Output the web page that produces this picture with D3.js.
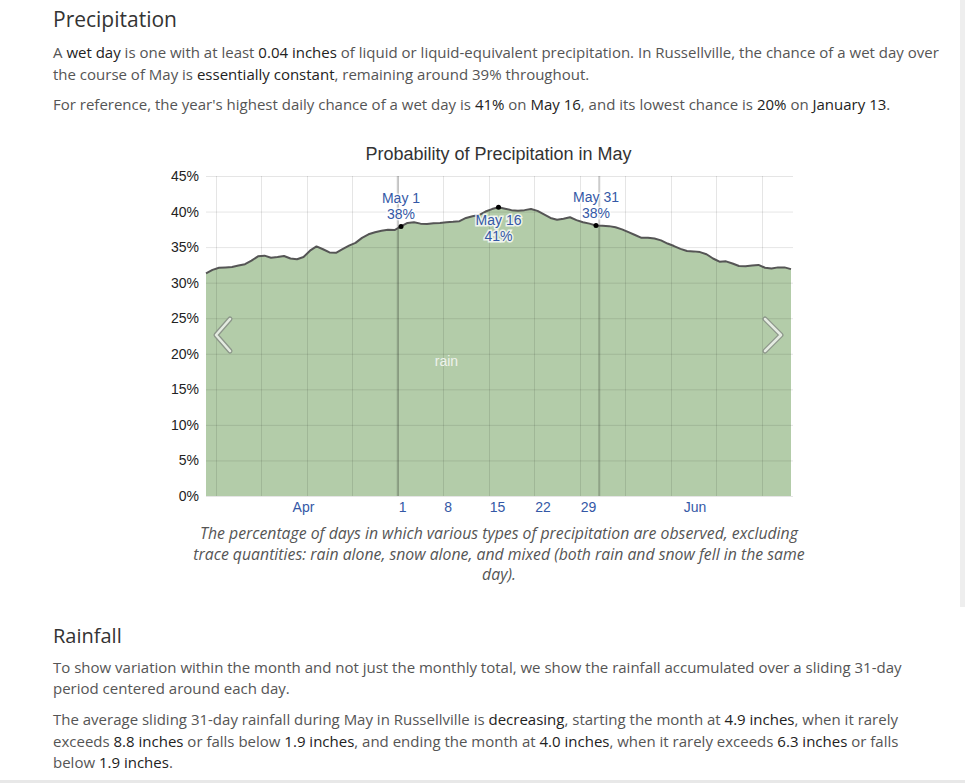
<!DOCTYPE html>
<html>
<head>
<meta charset="utf-8">
<script src="https://cdn.jsdelivr.net/npm/d3@7"></script>
<style>
  body { margin: 0; width: 965px; height: 783px; overflow: hidden; background: #fff;
         font-family: "Open Sans", sans-serif; color: #555; position: relative; }
  .blk { position: absolute; left: 53px; white-space: nowrap; font-size: 15px; line-height: 22px; }
  .hd { position: absolute; left: 53px; font-size: 21px; color: #333; white-space: nowrap; }
  .k { color: #222; }
  .cap { position: absolute; left: 0; width: 998px; text-align: center; font-style: italic;
         font-size: 15.8px; line-height: 20.5px; white-space: nowrap; }
  #chart { position: absolute; left: 0; top: 0; }
  .edge-r { position: absolute; left: 960px; top: 0; width: 5px; height: 607px; background: #eee; }
  .edge-b { position: absolute; left: 0; top: 780px; width: 965px; height: 3px; background: #e8e8e8; }
</style>
</head>
<body>
<div class="hd" style="top:5px;">Precipitation</div>
<div class="blk" style="top:41px;">A <span class="k">wet day</span> is one with at least <span class="k">0.04 inches</span> of liquid or liquid-equivalent precipitation. In Russellville, the chance of a wet day over<br>the course of May is <span class="k">essentially constant</span>, remaining around 39% throughout.</div>
<div class="blk" style="top:93px;">For reference, the year's highest daily chance of a wet day is <span class="k">41%</span> on <span class="k">May 16</span>, and its lowest chance is <span class="k">20%</span> on <span class="k">January 13</span>.</div>

<svg id="chart" width="965" height="520"></svg>

<div class="cap" style="top:523px;">The percentage of days in which various types of precipitation are observed, excluding<br>trace quantities: rain alone, snow alone, and mixed (both rain and snow fell in the same<br>day).</div>

<div class="hd" style="top:622px; font-size:20px;">Rainfall</div>
<div class="blk" style="top:657px; line-height:21px;">To show variation within the month and not just the monthly total, we show the rainfall accumulated over a sliding 31-day<br>period centered around each day.</div>
<div class="blk" style="top:709px; line-height:21.5px;">The average sliding 31-day rainfall during May in Russellville is <span class="k">decreasing</span>, starting the month at <span class="k">4.9 inches</span>, when it rarely<br>exceeds <span class="k">8.8 inches</span> or falls below <span class="k">1.9 inches</span>, and ending the month at <span class="k">4.0 inches</span>, when it rarely exceeds <span class="k">6.3 inches</span> or falls<br>below <span class="k">1.9 inches</span>.</div>
<div class="edge-r"></div>
<div class="edge-b"></div>

<script>
// daily chance of a wet day (%), Apr 1 .. Jun 30
const rainPct = [
  31.3, 31.8, 32.1, 32.15, 32.2, 32.4, 32.6, 33.1, 33.7, 33.8,
  33.5, 33.6, 33.75, 33.4, 33.3, 33.6, 34.5, 35.1, 34.7, 34.25,
  34.2, 34.7, 35.2, 35.6, 36.3, 36.8, 37.1, 37.3, 37.45, 37.4,
  37.9, 38.4, 38.5, 38.3, 38.25, 38.35, 38.4, 38.5, 38.55, 38.65,
  39.1, 39.35, 39.5, 40.0, 40.35, 40.6, 40.4, 40.2, 40.1, 40.2,
  40.35, 40.1, 39.6, 39.1, 38.85, 39.0, 39.2, 38.8, 38.5, 38.3,
  38.05, 38.0, 37.95, 37.8, 37.5, 37.1, 36.7, 36.3, 36.3, 36.2,
  35.95, 35.5, 35.15, 34.75, 34.45, 34.4, 34.3, 34.0, 33.4, 32.95,
  33.0, 32.7, 32.35, 32.3, 32.4, 32.5, 32.1, 32.0, 32.15, 32.15,
  31.9
];
const firstDay = new Date(Date.UTC(2021, 3, 1, 12));
const yTicks = [0, 5, 10, 15, 20, 25, 30, 35, 40, 45];
const dayTickLabels = ['1', '8', '15', '22', '29'];
const dayTickDates = [1, 8, 15, 22, 29].map(d => new Date(Date.UTC(2021, 4, d)));
const monthLabels = ['Apr', 'Jun'];
const monthLabelDates = [new Date(Date.UTC(2021, 3, 16, 12)), new Date(Date.UTC(2021, 5, 15, 18))];
const monthEdges = [new Date(Date.UTC(2021, 4, 1)), new Date(Date.UTC(2021, 5, 1))];
const callouts = [
  { label: 'May 1', text: '38%', dayIndex: 30, above: true },
  { label: 'May 16', text: '41%', dayIndex: 45, above: false },
  { label: 'May 31', text: '38%', dayIndex: 60, above: true }
];
const seriesName = 'rain';
const chartTitle = 'Probability of Precipitation in May';

const data = rainPct.map((v, i) => ({ date: d3.utcDay.offset(firstDay, i), value: v }));

const margin = { top: 176, left: 206 };
const width = 585, height = 320;
const blue = '#3458a6';

const svg = d3.select('#chart');
const chart = svg.append('g').attr('transform', `translate(${margin.left},${margin.top})`);

const x = d3.scaleUtc().domain(d3.extent(data, d => d.date)).range([0, width]);
const y = d3.scaleLinear().domain([0, 45]).range([height, 0]);

// area + outline
chart.append('path')
  .datum(data)
  .attr('fill', '#b3cca9')
  .attr('d', d3.area().x(d => x(d.date)).y0(height).y1(d => y(d.value)));

// horizontal grid
chart.append('g').selectAll('line').data(yTicks).join('line')
  .attr('x1', 0).attr('x2', width + 2)
  .attr('y1', d => y(d) + 0.5).attr('y2', d => y(d) + 0.5)
  .attr('stroke', 'rgba(0,0,0,0.1)');

// weekly vertical grid (saturdays)
const weeks = d3.utcSaturday.range(x.domain()[0], x.domain()[1]);
chart.append('g').selectAll('line').data(weeks).join('line')
  .attr('x1', d => Math.round(x(d)) + 0.5).attr('x2', d => Math.round(x(d)) + 0.5)
  .attr('y1', 0).attr('y2', height)
  .attr('stroke', 'rgba(0,0,0,0.1)');

// month boundary lines
chart.append('g').selectAll('line').data(monthEdges).join('line')
  .attr('x1', d => x(d)).attr('x2', d => x(d))
  .attr('y1', 0).attr('y2', height)
  .attr('stroke', 'rgba(0,0,0,0.2)').attr('stroke-width', 2);

chart.append('path')
  .datum(data)
  .attr('fill', 'none')
  .attr('stroke', '#555')
  .attr('stroke-width', 2)
  .attr('stroke-linejoin', 'round')
  .attr('d', d3.line().x(d => x(d.date)).y(d => y(d.value)));

// y axis
const yAxis = d3.axisLeft(y).tickValues(yTicks).tickFormat(d => d + '%').tickSize(0).tickPadding(7);
chart.append('g').call(yAxis)
  .call(g => g.select('.domain').remove())
  .selectAll('text')
  .attr('font-family', '"Liberation Sans", Arial, sans-serif')
  .attr('font-size', 14).attr('fill', '#222');

// x labels
const xLab = chart.append('g')
  .attr('font-family', '"Liberation Sans", Arial, sans-serif')
  .attr('font-size', 14).attr('fill', blue);
xLab.selectAll('text.day').data(dayTickDates).join('text')
  .attr('class', 'day')
  .attr('x', d => x(d) + 1).attr('y', height + 16)
  .text((d, i) => dayTickLabels[i]);
xLab.selectAll('text.mon').data(monthLabelDates).join('text')
  .attr('class', 'mon')
  .attr('x', d => x(d)).attr('y', height + 16)
  .attr('text-anchor', 'middle')
  .text((d, i) => monthLabels[i]);

// title
svg.append('text')
  .attr('x', margin.left + width / 2).attr('y', 160)
  .attr('text-anchor', 'middle')
  .attr('font-family', '"Liberation Sans", Arial, sans-serif')
  .attr('font-size', 18).attr('fill', '#333')
  .text(chartTitle);

// series label
const rainAt = data[37];
chart.append('text')
  .attr('x', x(rainAt.date)).attr('y', y(rainAt.value / 2) + 7)
  .attr('text-anchor', 'middle')
  .attr('font-family', '"Liberation Sans", Arial, sans-serif')
  .attr('font-size', 14).attr('fill', '#eef2ec')
  .text(seriesName);

// callouts
const co = chart.append('g').selectAll('g').data(callouts).join('g')
  .attr('transform', d => `translate(${x(data[d.dayIndex].date)},${y(data[d.dayIndex].value)})`);
co.append('circle').attr('r', 2.5).attr('fill', '#000');
co.selectAll('text').data(d => d.above
    ? [{ t: d.label, dy: -23 }, { t: d.text, dy: -7 }]
    : [{ t: d.label, dy: 18 }, { t: d.text, dy: 34 }])
  .join('text')
  .attr('y', d => d.dy)
  .attr('text-anchor', 'middle')
  .attr('font-family', '"Liberation Sans", Arial, sans-serif')
  .attr('font-size', 14)
  .attr('fill', blue)
  .attr('stroke', 'rgba(255,255,255,0.8)').attr('stroke-width', 3)
  .attr('paint-order', 'stroke')
  .text(d => d.t);

// scroll chevrons
const chev = [
  [[24, 143], [10, 159], [24, 175]],
  [[559, 143], [575, 159], [559, 175]]
];
chart.append('g').selectAll('path').data(chev).join('path')
  .attr('d', d => d3.line()(d))
  .attr('fill', 'none').attr('stroke', '#8c968a').attr('stroke-width', 5)
  .attr('stroke-linecap', 'round').attr('stroke-linejoin', 'round');
chart.append('g').selectAll('path').data(chev).join('path')
  .attr('d', d => d3.line()(d))
  .attr('fill', 'none').attr('stroke', '#e4ebe1').attr('stroke-width', 2.5)
  .attr('stroke-linecap', 'round').attr('stroke-linejoin', 'round');
</script>
</body>
</html>
